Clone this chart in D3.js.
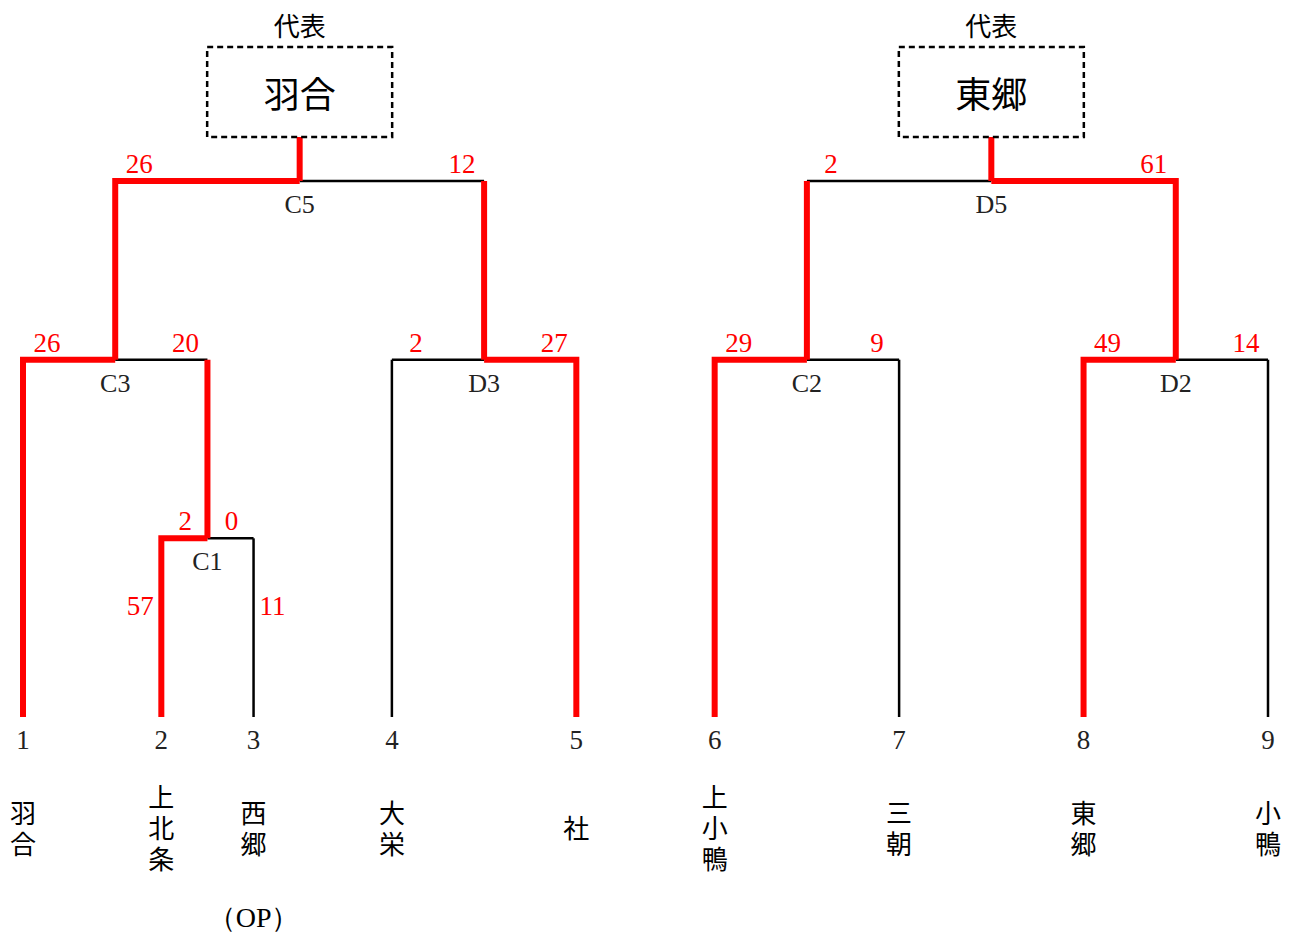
<!DOCTYPE html>
<html>
<head>
<meta charset="utf-8">
<script src="https://cdn.jsdelivr.net/npm/d3@7"></script>
<style>
  body { margin: 0; background: #fff; }
</style>
</head>
<body>
<svg id="chart"></svg>
<script>
// teams in bracket order, with their seed numbers and slot on a 0..27 grid
const teams = ["羽合", "上北条", "西郷", "大栄", "社", "上小鴨", "三朝", "東郷", "小鴨"]
const seeds = [1, 2, 3, 4, 5, 6, 7, 8, 9]
const slots = [0, 3, 5, 8, 12, 15, 19, 23, 27]

// matches: children are "t<index>" for teams or a match id
const matchIds    = ["C1", "C3", "D3", "C5", "C2", "D2", "D5"]
const matchLeft   = ["t1", "t0", "t3", "C3", "t5", "t7", "C2"]
const matchRight  = ["t2", "C1", "t4", "D3", "t6", "t8", "D2"]
const matchLevel  = [1, 2, 2, 3, 2, 2, 3]
const leftScores  = [2, 26, 2, 26, 29, 49, 2]
const rightScores = [0, 20, 27, 12, 9, 14, 61]
const winners     = ["L", "L", "R", "L", "L", "L", "R"]

// extra scores written beside the first-round lines
const extraTeams  = [1, 2]
const extraValues = [57, 11]
const extraSide   = ["L", "R"]
const extraLevel  = 0.62

// final representatives
const finalMatches = ["C5", "D5"]
const finalNames   = ["羽合", "東郷"]
const finalTitle   = "代表"
const opNote = { team: 2, text: "（OP）" }

const width = 1295, height = 936
const RED = "#ff0000"
const serif = "'Liberation Serif', 'DejaVu Serif', serif"
const sans = "'Noto Sans CJK JP', 'Noto Sans', sans-serif"

const svg = d3.select("#chart")
  .attr("width", width)
  .attr("height", height)

const xScale = d3.scaleLinear().domain([0, 27]).range([23, 1268])
const yScale = d3.scaleLinear().domain([0, 3]).range([717, 181])

// resolve node positions
const nodes = {}
teams.forEach((t, i) => {
  nodes["t" + i] = { x: xScale(slots[i]), y: yScale(0), team: true, won: false }
})
matchIds.forEach((id, i) => {
  const l = nodes[matchLeft[i]], r = nodes[matchRight[i]]
  nodes[id] = { x: (l.x + r.x) / 2, y: yScale(matchLevel[i]), team: false }
  if (winners[i] == "L") l.won = true; else r.won = true
})

const lines = svg.append("g")
const blackSegs = [], redSegs = []

matchIds.forEach((id, i) => {
  const m = nodes[id]
  ;[["L", matchLeft[i]], ["R", matchRight[i]]].forEach(([side, cid]) => {
    const c = nodes[cid]
    // a team's line is red only if it won; a match line always carries its winner
    const vRed = c.team ? c.won : true
    const hRed = winners[i] == side
    if (vRed && hRed) {
      redSegs.push(`M${c.x},${c.y}V${m.y}H${m.x}`)
    } else {
      (vRed ? redSegs : blackSegs).push(`M${c.x},${c.y}V${m.y}`)
      ;(hRed ? redSegs : blackSegs).push(`M${c.x},${m.y}H${m.x}`)
    }
  })
})

const boxTop = 47, boxBottom = 137, boxW = 185
finalMatches.forEach(id => {
  const m = nodes[id]
  redSegs.push(`M${m.x},${m.y}V${boxBottom}`)
})

lines.selectAll(".black").data(blackSegs).join("path")
  .attr("class", "black")
  .attr("d", d => d)
  .attr("fill", "none")
  .attr("stroke", "#000")
  .attr("stroke-width", 2.5)

lines.selectAll(".red").data(redSegs).join("path")
  .attr("class", "red")
  .attr("d", d => d)
  .attr("fill", "none")
  .attr("stroke", RED)
  .attr("stroke-width", 6)
  .attr("stroke-linejoin", "miter")

// scores
const labels = svg.append("g")
matchIds.forEach((id, i) => {
  const m = nodes[id]
  const l = nodes[matchLeft[i]], r = nodes[matchRight[i]]
  labels.append("text")
    .attr("x", l.x + 24).attr("y", m.y - 8)
    .attr("text-anchor", "middle")
    .style("font-family", serif).style("font-size", "27px")
    .attr("fill", RED)
    .text(leftScores[i])
  labels.append("text")
    .attr("x", r.x - 22).attr("y", m.y - 8)
    .attr("text-anchor", "middle")
    .style("font-family", serif).style("font-size", "27px")
    .attr("fill", RED)
    .text(rightScores[i])
  labels.append("text")
    .attr("x", m.x).attr("y", m.y + 32)
    .attr("text-anchor", "middle")
    .style("font-family", serif).style("font-size", "26px")
    .attr("fill", "#222")
    .text(id)
})

extraTeams.forEach((t, i) => {
  const n = nodes["t" + t]
  labels.append("text")
    .attr("x", extraSide[i] == "L" ? n.x - 21 : n.x + 19)
    .attr("y", yScale(extraLevel) + 9)
    .attr("text-anchor", "middle")
    .style("font-family", serif).style("font-size", "27px")
    .attr("fill", RED)
    .text(extraValues[i])
})

// seeds and vertical team names
teams.forEach((t, i) => {
  const n = nodes["t" + i]
  labels.append("text")
    .attr("x", n.x).attr("y", 749)
    .attr("text-anchor", "middle")
    .style("font-family", serif).style("font-size", "27px")
    .attr("fill", "#222")
    .text(seeds[i])
  labels.append("text")
    .attr("x", n.x).attr("y", 831)
    .attr("text-anchor", "middle")
    .style("writing-mode", "vertical-rl")
    .style("font-family", sans).style("font-size", "26px")
    .style("letter-spacing", "5px")
    .attr("fill", "#000")
    .text(t)
})

labels.append("text")
  .attr("x", nodes["t" + opNote.team].x).attr("y", 917)
  .attr("text-anchor", "middle")
  .attr("dominant-baseline", "central")
  .style("font-family", serif).style("font-size", "28px")
  .text(opNote.text)

// representative boxes
finalMatches.forEach((id, i) => {
  const m = nodes[id]
  svg.append("rect")
    .attr("x", m.x - boxW / 2).attr("y", boxTop)
    .attr("width", boxW).attr("height", boxBottom - boxTop)
    .attr("fill", "none")
    .attr("stroke", "#000")
    .attr("stroke-width", 2.5)
    .attr("stroke-dasharray", "6,4")
  svg.append("text")
    .attr("x", m.x).attr("y", 92)
    .attr("text-anchor", "middle")
    .attr("dominant-baseline", "central")
    .style("font-family", sans).style("font-size", "36px")
    .text(finalNames[i])
  svg.append("text")
    .attr("x", m.x).attr("y", 24)
    .attr("text-anchor", "middle")
    .attr("dominant-baseline", "central")
    .style("font-family", sans).style("font-size", "26px")
    .text(finalTitle)
})
</script>
</body>
</html>
